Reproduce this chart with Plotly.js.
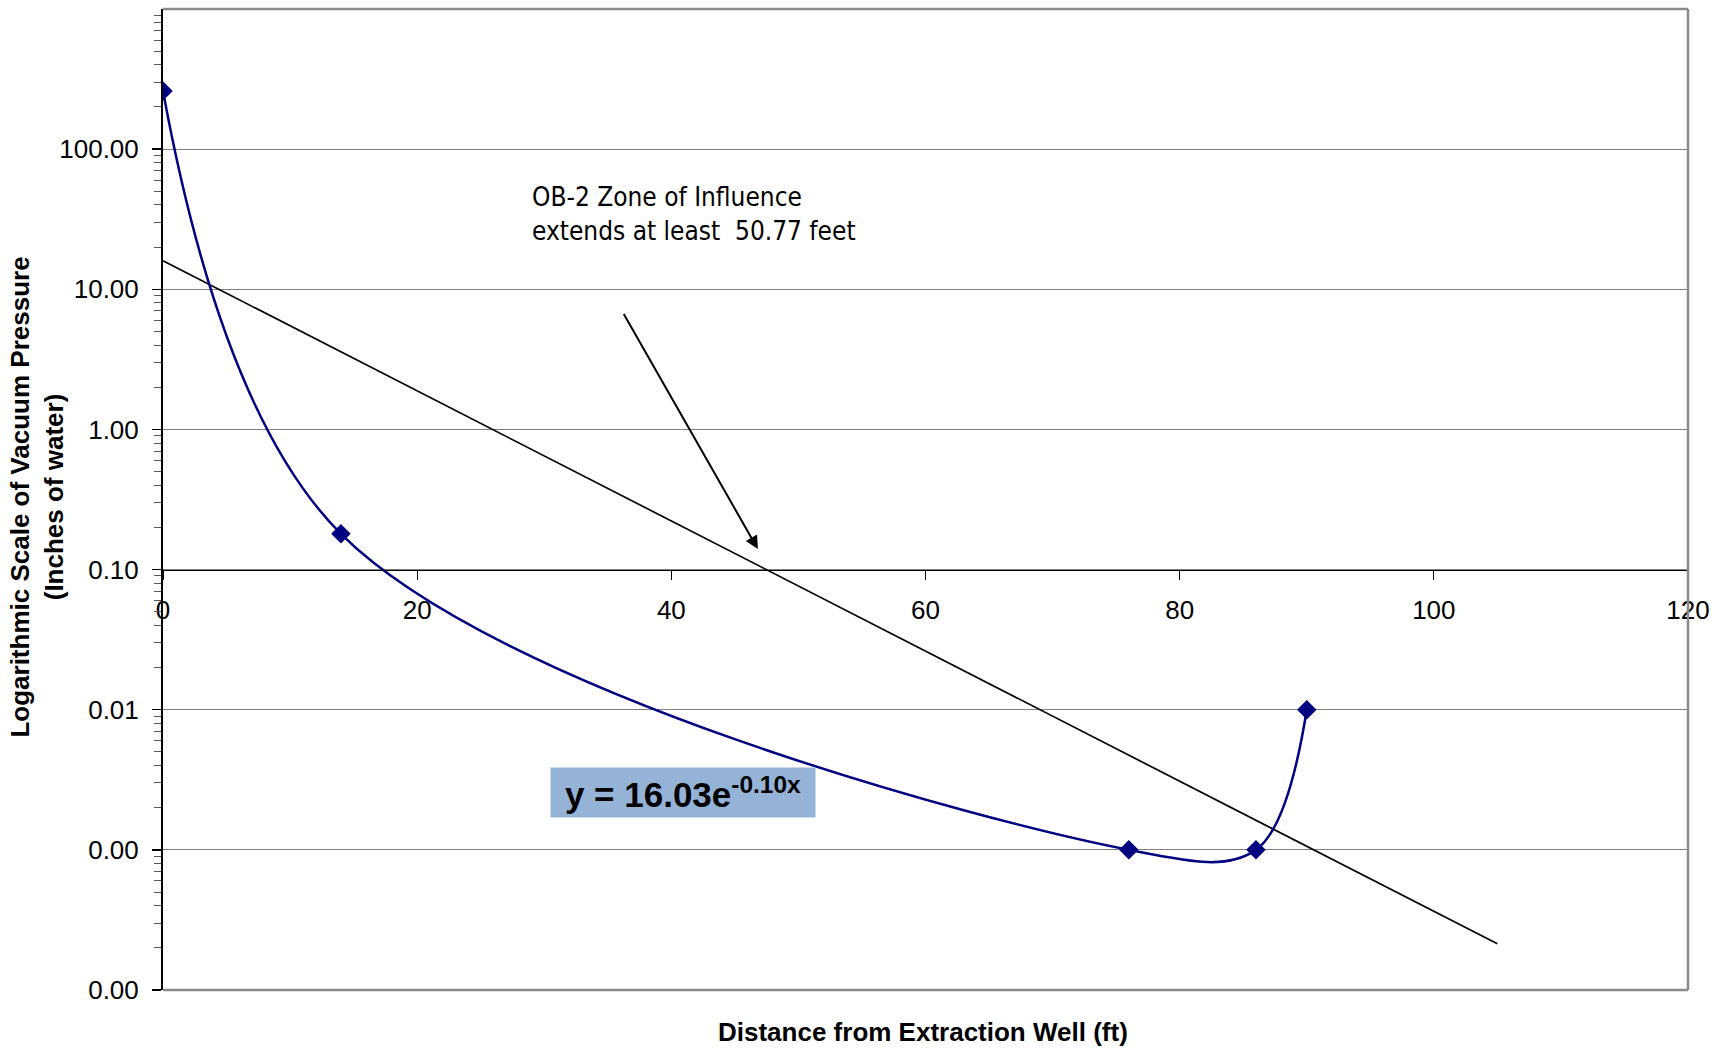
<!DOCTYPE html>
<html>
<head>
<meta charset="utf-8">
<script src="https://cdn.plot.ly/plotly-3.0.1.min.js"></script>
<style>
  html, body { margin: 0; padding: 0; background: #ffffff; }
  #chart { width: 1725px; height: 1050px; }
</style>
</head>
<body>
<div id="chart"></div>
<script>
// ---- data ----
const distanceFt = [0, 14, 76, 86, 90];
const vacuumInH2O = [260, 0.18, 0.001, 0.001, 0.01];

const xTickVals = [0, 20, 40, 60, 80, 100, 120];
const yTickVals = [0.0001, 0.001, 0.01, 0.1, 1, 10, 100];
const yTickText = ['0.00', '0.00', '0.01', '0.10', '1.00', '10.00', '100.00'];

const equationText = 'y = 16.03e<sup>-0.10x</sup>';
const zoneNoteText = 'OB-2 Zone of Influence<br>extends at least  50.77 feet';
const xTitleText = 'Distance from Extraction Well (ft)';
const yTitleText = 'Logarithmic Scale of Vacuum Pressure<br>(Inches of water)';

// ---- exponential trendline, least squares on ln(y) (as the spreadsheet does) ----
const trendForward = 15;
function expFit(xs, ys) {
  const n = xs.length;
  const ly = ys.map(v => Math.log(v));
  const mx = xs.reduce((a, b) => a + b, 0) / n;
  const my = ly.reduce((a, b) => a + b, 0) / n;
  let sxx = 0, sxy = 0;
  for (let i = 0; i < n; i++) { sxx += (xs[i] - mx) ** 2; sxy += (xs[i] - mx) * (ly[i] - my); }
  const b = sxy / sxx;
  return { a: Math.exp(my - b * mx), b: b };
}
const fit = expFit(distanceFt, vacuumInH2O);
const trendX = [];
const xEnd = Math.max(...distanceFt) + trendForward;
for (let i = 0; i <= 20; i++) trendX.push(xEnd * i / 20);
const trendY = trendX.map(x => fit.a * Math.exp(fit.b * x));

// minor ticks on the log axis (2..9 of each decade)
const minorVals = [];
for (let d = -4; d < 3; d++) for (let m = 2; m <= 9; m++) minorVals.push(m * Math.pow(10, d));

const FONT = 'Liberation Sans, Arial, sans-serif';
const NARROW = 'DejaVu Sans Condensed, Liberation Sans Narrow, Arial Narrow, sans-serif';

const traces = [
  {
    x: trendX, y: trendY, mode: 'lines', type: 'scatter',
    line: { color: '#000000', width: 1.7 }, hoverinfo: 'skip', showlegend: false
  },
  {
    x: distanceFt, y: vacuumInH2O, mode: 'lines+markers', type: 'scatter',
    line: { color: '#000080', width: 2.5, shape: 'spline', smoothing: 1 },
    marker: { symbol: 'diamond', size: 15, color: '#000080' },
    showlegend: false
  }
];

const layout = {
  width: 1725, height: 1050,
  margin: { l: 163, r: 37, t: 9, b: 60 },
  paper_bgcolor: '#ffffff', plot_bgcolor: '#ffffff',
  font: { family: FONT, color: '#000000' },
  showlegend: false,
  xaxis: {
    range: [0, 120], tickmode: 'array', tickvals: xTickVals,
    ticks: 'outside', ticklen: 9, tickwidth: 1, tickcolor: '#000000',
    showline: true, linecolor: '#000000', linewidth: 1.5,
    showgrid: false, zeroline: false,
    anchor: 'free', position: 3 / 7,
    tickfont: { family: FONT, size: 26, color: '#000000' },
    ticklabelstandoff: 8
  },
  yaxis: {
    type: 'log', range: [-4, 3], tickmode: 'array', tickvals: yTickVals, ticktext: yTickText,
    ticks: 'outside', ticklen: 9, tickwidth: 1.5, tickcolor: '#000000',
    showline: true, linecolor: '#000000', linewidth: 2,
    showgrid: true, gridcolor: '#7f7f7f', gridwidth: 1.2, zeroline: false,
    tickfont: { family: FONT, size: 26, color: '#000000' },
    ticklabelstandoff: 8,
    minor: { tickmode: 'array', tickvals: minorVals, ticks: 'outside', ticklen: 7, tickwidth: 1, tickcolor: '#555555', showgrid: false }
  },
  shapes: [
    { type: 'line', xref: 'paper', yref: 'paper', x0: 0, x1: 1, y0: 1, y1: 1, line: { color: '#8a8a8a', width: 2.5 }, layer: 'above' },
    { type: 'line', xref: 'paper', yref: 'paper', x0: 1, x1: 1, y0: 0, y1: 1, line: { color: '#8a8a8a', width: 2.5 }, layer: 'above' },
    { type: 'line', xref: 'paper', yref: 'paper', x0: 0, x1: 1, y0: 0, y1: 0, line: { color: '#8a8a8a', width: 2.5 }, layer: 'above' }
  ],
  annotations: [
    {
      xref: 'paper', yref: 'paper', x: -0.0826, y: 0.502, xanchor: 'center', yanchor: 'middle',
      text: yTitleText, textangle: -90, showarrow: false,
      font: { family: FONT, size: 26, weight: 'bold', color: '#000000' }
    },
    {
      xref: 'paper', yref: 'paper', x: 0.4984, y: -0.043, xanchor: 'center', yanchor: 'middle',
      text: xTitleText, showarrow: false,
      font: { family: FONT, size: 26, weight: 'bold', color: '#000000' }
    },
    {
      xref: 'x', yref: 'y', x: 28.9, y: 1.536, xanchor: 'left', yanchor: 'middle', align: 'left',
      text: zoneNoteText, showarrow: false,
      font: { family: NARROW, size: 26, color: '#000000' }
    },
    {
      xref: 'x', yref: 'y', x: 46.81, y: -0.854, axref: 'x', ayref: 'y', ax: 36.19, ay: 0.834,
      text: '', showarrow: true, arrowhead: 2, arrowsize: 1.3, arrowwidth: 2, arrowcolor: '#000000'
    },
    {
      xref: 'x', yref: 'y', x: 40.9, y: -2.588, xanchor: 'center', yanchor: 'middle',
      text: equationText, showarrow: false, bgcolor: '#95b3d7', borderpad: 0,
      width: 264, height: 49,
      font: { family: FONT, size: 35, weight: 'bold', color: '#000000' }
    }
  ]
};

Plotly.newPlot('chart', traces, layout, { displayModeBar: false, staticPlot: true });
</script>
</body>
</html>
